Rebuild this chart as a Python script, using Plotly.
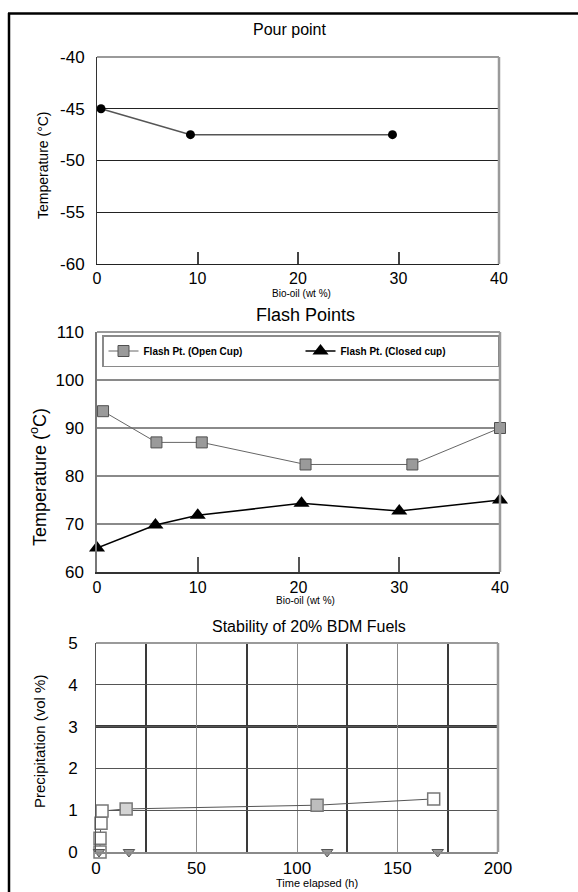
import plotly.graph_objects as go

W, H = 578, 892
FONT = "Liberation Sans, Arial, sans-serif"

# ---- data: Pour point ----
pour_x = [0.4, 9.3, 29.4]
pour_y = [-45, -47.5, -47.5]
pour_xticks = [0, 10, 20, 30, 40]
pour_yticks = [-60, -55, -50, -45, -40]

# ---- data: Flash points ----
open_x = [0.6, 5.9, 10.4, 20.7, 31.3, 40]
open_y = [93.5, 87, 87, 82.4, 82.4, 90]
closed_x = [0, 5.8, 10, 20.3, 30, 40]
closed_y = [65, 69.8, 71.8, 74.3, 72.7, 75]
flash_xticks = [0, 10, 20, 30, 40]
flash_yticks = [60, 70, 80, 90, 100, 110]

# ---- data: Stability ----
sq_t = [2, 2, 2.5, 3, 15, 110, 168]
sq_p = [0, 0.33, 0.69, 0.98, 1.03, 1.12, 1.27]
sq_fill = ["white", "white", "white", "white", "#d4d4d4", "#bdbdbd", "white"]
tri_t = [1.5, 16.4, 115, 170]
tri_p = [0, 0, 0, 0]
stab_xticks = [0, 50, 100, 150, 200]
stab_yticks = [0, 1, 2, 3, 4, 5]


def px(x):
    return x / W


def py(y):
    return 1 - y / H


fig = go.Figure()

# Pour point
fig.add_trace(go.Scatter(
    x=pour_x, y=pour_y, mode="lines+markers", xaxis="x", yaxis="y",
    line=dict(color="#555555", width=1.5),
    marker=dict(symbol="circle", size=9, color="black"),
    showlegend=False, cliponaxis=False))

# Flash points
fig.add_trace(go.Scatter(
    x=open_x, y=open_y, mode="lines+markers", xaxis="x2", yaxis="y2",
    name="<b>Flash Pt. (Open Cup)</b>",
    line=dict(color="#666666", width=1),
    marker=dict(symbol="square", size=11, color="#9a9a9a",
                line=dict(color="#505050", width=1)),
    cliponaxis=False))
fig.add_trace(go.Scatter(
    x=closed_x, y=closed_y, mode="lines+markers", xaxis="x2", yaxis="y2",
    name="<b>Flash Pt. (Closed cup)</b>",
    line=dict(color="black", width=1.5),
    marker=dict(symbol="triangle-up", size=14, color="black"),
    cliponaxis=False))

# Stability
fig.add_trace(go.Scatter(
    x=sq_t, y=sq_p, mode="lines+markers", xaxis="x3", yaxis="y3",
    line=dict(color="#555555", width=1),
    marker=dict(symbol="square", size=12, color=sq_fill,
                line=dict(color="#777777", width=1.5)),
    showlegend=False, cliponaxis=False))
fig.add_trace(go.Scatter(
    x=tri_t, y=tri_p, mode="markers", xaxis="x3", yaxis="y3",
    marker=dict(symbol="triangle-down", size=10, color="#999999",
                line=dict(color="#555555", width=1)),
    showlegend=False, cliponaxis=False))

tickfont = dict(family=FONT, size=17, color="black")
xtickfont = dict(family=FONT, size=16, color="black")


def labels(vals):
    return [str(v) for v in vals]


fig.update_layout(
    template="none",
    width=W, height=H,
    margin=dict(l=0, r=0, t=0, b=0, pad=0, autoexpand=False),
    paper_bgcolor="white", plot_bgcolor="white",
    font=dict(family=FONT, color="black"),
    # ---- Pour point axes ----
    xaxis=dict(domain=[px(97), px(499)], anchor="y", range=[0, 40],
               tickvals=pour_xticks, ticktext=labels(pour_xticks),
               showgrid=False, zeroline=False, automargin=False,
               showline=True, linecolor="#222222", linewidth=1,
               ticks="inside", ticklen=12, tickcolor="#444444", tickwidth=1.5,
               tickfont=xtickfont),
    yaxis=dict(domain=[py(264), py(57)], anchor="x", range=[-60, -40],
               tickvals=pour_yticks, ticktext=labels(pour_yticks),
               showgrid=True, gridcolor="#222222", automargin=False,
               gridwidth=1, zeroline=False, showline=True,
               linecolor="#333333", linewidth=1, ticks="",
               ticklabelstandoff=8, tickfont=tickfont),
    # ---- Flash points axes ----
    xaxis2=dict(domain=[px(97), px(500)], anchor="y2", range=[0, 40],
                tickvals=flash_xticks, ticktext=labels(flash_xticks),
                showgrid=False, zeroline=False, automargin=False,
                showline=True, linecolor="#333333", linewidth=1.5,
                ticks="inside", ticklen=15, tickcolor="#555555", tickwidth=1.5,
                tickfont=xtickfont),
    yaxis2=dict(domain=[py(572), py(332)], anchor="x2", range=[60, 110],
                tickvals=flash_yticks, ticktext=labels(flash_yticks),
                showgrid=True, gridcolor="#8a8a8a", automargin=False,
                gridwidth=2.2, zeroline=False, showline=True,
                linecolor="#777777", linewidth=1.5, ticks="",
                ticklabelstandoff=8, tickfont=tickfont),
    # ---- Stability axes ----
    xaxis3=dict(domain=[px(96), px(498)], anchor="y3", range=[0, 200],
                tickvals=stab_xticks, ticktext=labels(stab_xticks),
                showgrid=True, gridcolor="#8c8c8c", automargin=False,
                gridwidth=1,
                minor=dict(tickvals=[25, 75, 125, 175], showgrid=True,
                           gridcolor="#3a3a3a", gridwidth=2.2, ticks=""),
                zeroline=False, showline=True, linecolor="#8a8a8a",
                linewidth=2, ticks="", tickfont=tickfont),
    yaxis3=dict(domain=[py(852), py(643)], anchor="x3", range=[0, 5],
                tickvals=stab_yticks, ticktext=labels(stab_yticks),
                showgrid=True, gridcolor="#555555", automargin=False,
                gridwidth=1,
                minor=dict(tickvals=[3], showgrid=True, gridcolor="#3a3a3a",
                           gridwidth=2.5, ticks=""),
                zeroline=False, showline=True, linecolor="#555555",
                linewidth=1, ticks="", ticklabelstandoff=14,
                tickfont=tickfont),
    legend=dict(x=px(102), y=py(335), xanchor="left", yanchor="top",
                orientation="h", bgcolor="white", bordercolor="#8a8a8a",
                borderwidth=1.5, entrywidth=152, entrywidthmode="pixels",
                font=dict(family=FONT, size=10, color="black"),
                tracegroupgap=0),
)

ann = []


def add_text(text, x, y, size, angle=0, bold=False):
    ann.append(dict(text=("<b>%s</b>" % text) if bold else text,
                    x=px(x), y=py(y), xref="paper", yref="paper",
                    xanchor="center", yanchor="middle", showarrow=False,
                    textangle=angle,
                    font=dict(family=FONT, size=size, color="black")))


add_text("Pour point", 289, 30, 16)
add_text("Temperature (°C)", 43, 165, 14, angle=-90)
add_text("Bio-oil (wt %)", 301, 294, 10)

add_text("Flash Points", 305, 315, 18)
add_text("Temperature (<sup>o</sup>C)", 38, 477, 18, angle=-90)
add_text("Bio-oil (wt %)", 305, 600, 10)

add_text("Stability of 20% BDM Fuels", 309, 626, 16)
add_text("Precipitation (vol %)", 39, 742, 15, angle=-90)
add_text("Time elapsed (h)", 317, 883, 11)

fig.update_layout(annotations=ann)

shapes = []
# outer frame (top and left edges)
shapes.append(dict(type="line", xref="paper", yref="paper",
                   x0=px(8), x1=1.0, y0=py(13.5), y1=py(13.5),
                   line=dict(color="black", width=2.5)))
shapes.append(dict(type="line", xref="paper", yref="paper",
                   x0=px(9), x1=px(9), y0=py(13), y1=0,
                   line=dict(color="black", width=2.5)))
# grey top/right borders of each plot area
for xa, ya in [("x", "y"), ("x2", "y2"), ("x3", "y3")]:
    shapes.append(dict(type="line", xref=xa + " domain", yref=ya + " domain",
                       x0=0, x1=1, y0=1, y1=1,
                       line=dict(color="#9a9a9a", width=2)))
    shapes.append(dict(type="line", xref=xa + " domain", yref=ya + " domain",
                       x0=1, x1=1, y0=0, y1=1,
                       line=dict(color="#9a9a9a", width=2.5)))
fig.update_layout(shapes=shapes)

fig.write_html(
    "out.html",
    config={"displayModeBar": False},
    post_script="document.body.style.margin='0';"
                "document.body.style.padding='0';"
                "document.documentElement.style.overflow='hidden';")
